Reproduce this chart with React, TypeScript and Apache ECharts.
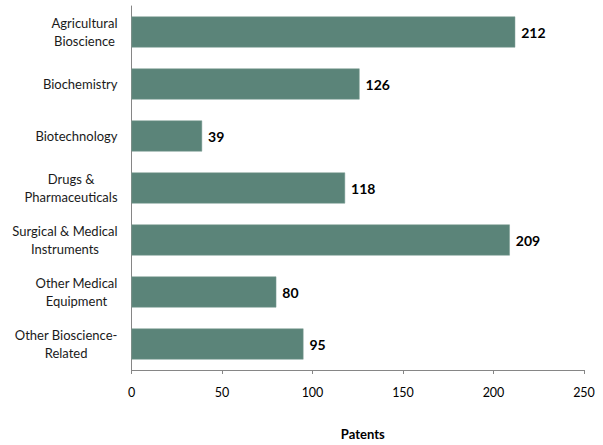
import React, { useEffect, useRef } from "react";
import * as echarts from "echarts";

const categories = [
  "Agricultural\nBioscience",
  "Biochemistry",
  "Biotechnology",
  "Drugs &\nPharmaceuticals",
  "Surgical & Medical\nInstruments",
  "Other Medical\nEquipment",
  "Other Bioscience-\nRelated",
];
const patents = [212, 126, 39, 118, 209, 80, 95];
const xTicks = [0, 50, 100, 150, 200, 250];

export default function App() {
  const ref = useRef<HTMLDivElement>(null);
  useEffect(() => {
    document.body.style.margin = "0";
    const chart = echarts.init(ref.current!, null, { renderer: "svg" });
    const font = "Lato, 'Liberation Sans', sans-serif";
    chart.setOption({
      animation: false,
      grid: { left: 131.5, right: 19, top: 6, bottom: 63.5, containLabel: false },
      xAxis: {
        type: "value",
        min: xTicks[0],
        max: xTicks[xTicks.length - 1],
        interval: 50,
        name: "Patents",
        nameLocation: "middle",
        nameGap: 57,
        nameTextStyle: {
          fontFamily: font,
          fontSize: 13,
          fontWeight: "bold",
          color: "#000",
          padding: [0, 0, 0, 10],
        },
        axisLine: { show: true, lineStyle: { color: "#868686", width: 1 } },
        axisTick: { show: true, length: 4, lineStyle: { color: "#868686" } },
        axisLabel: { fontFamily: font, fontSize: 12.5, color: "#000", margin: 16 },
        splitLine: { show: false },
      },
      yAxis: {
        type: "category",
        inverse: true,
        data: categories,
        axisLine: { show: true, lineStyle: { color: "#868686", width: 1 } },
        axisTick: { show: false },
        axisLabel: {
          margin: 14,
          align: "right",
          formatter: (v: string) =>
            v
              .split("\n")
              .map((s) => `{c|${s}}`)
              .join("\n"),
          rich: {
            c: { align: "center", fontFamily: font, fontSize: 13, color: "#1a1a1a", lineHeight: 18 },
          },
        },
      },
      series: [
        {
          type: "bar",
          data: patents,
          barWidth: 31,
          itemStyle: { color: "#5b8479", borderColor: "#7a9d93", borderWidth: 0.5 },
          label: {
            show: true,
            position: "right",
            distance: 6,
            fontFamily: font,
            fontSize: 14,
            fontWeight: "bold",
            color: "#000",
          },
        },
      ],
    });
    return () => chart.dispose();
  }, []);
  return <div ref={ref} style={{ width: 603, height: 445 }} />;
}
